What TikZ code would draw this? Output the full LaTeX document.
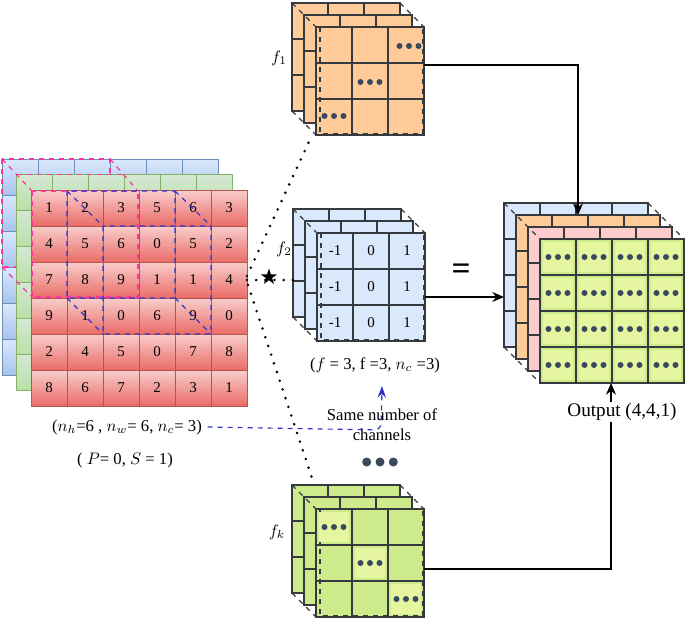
\documentclass[tikz,border=0pt]{standalone}
\usepackage{fontspec}
\setmainfont{Liberation Serif}
\newfontfamily\symfont{DejaVu Sans}
\usetikzlibrary{arrows.meta}

\definecolor{redtop}{HTML}{F8CECC}
\definecolor{redbot}{HTML}{EA6B66}
\definecolor{redline}{HTML}{B85450}
\definecolor{bluetop}{HTML}{DAE8FC}
\definecolor{bluebot}{HTML}{A9C4EB}
\definecolor{blueline}{HTML}{6C8EBF}
\definecolor{greentop}{HTML}{D5E8D4}
\definecolor{greenbot}{HTML}{B9E0A5}
\definecolor{greenline}{HTML}{82B366}
\definecolor{peach}{HTML}{FFCC99}
\definecolor{skyfill}{HTML}{DAE8FC}
\definecolor{rosefill}{HTML}{FFCCCC}
\definecolor{limefill}{HTML}{CDEB8B}
\definecolor{limelight}{HTML}{E6F5A0}
\definecolor{dotgrey}{HTML}{3A4A5E}
\definecolor{gridgrey}{HTML}{36393D}
\definecolor{pinkdash}{HTML}{FF3399}
\definecolor{bluedash}{HTML}{3333CC}

\tikzset{
  redcell/.style={draw=redline, line width=0.6pt, top color=redtop, bottom color=redbot},
  greencell/.style={draw=greenline, line width=0.6pt, top color=greentop, bottom color=greenbot},
  bluecell/.style={draw=blueline, line width=0.6pt, top color=bluetop, bottom color=bluebot},
  kcell/.style={draw=gridgrey, line width=0.8pt},
  pinkcube/.style={draw=pinkdash, dashed, line width=0.7pt},
  bluecube/.style={draw=bluedash, dashed, line width=0.7pt},
  facedash/.style={draw=gridgrey, dashed, line width=0.7pt},
  dotline/.style={line width=1.7pt, dash pattern=on 0pt off 5.5pt, line cap=round},
  flow/.style={-{Stealth[length=7pt,width=6pt]}, line width=0.7pt},
  num/.style={font=\small},
}

% three dots centred at x, y
\newcommand{\threedots}[2]{%
  \foreach \dx in {-9.5,0,9.5} \fill[dotgrey] (#1+\dx,#2) circle (3);
}
% 3x3 kernel of three layers, back corner x, y, fill
\newcommand{\kernelstack}[3]{%
  \foreach \l in {0,1,2}
    \foreach \r in {0,1,2}
      \foreach \c in {0,1,2}
        \draw[kcell, fill=#3] (#1+12*\l+36*\c,#2+12*\l+36*\r) rectangle ++(36,36);
  \draw[facedash] (#1,#2) -- (#1+24,#2+24) (#1+108,#2) -- (#1+132,#2+24)
    (#1,#2+108) -- (#1+24,#2+132);
  \draw[facedash] (#1+28,#2+24) rectangle (#1+131,#2+131);
}

\begin{document}
\begin{tikzpicture}[x=0.6pt, y=-0.6pt]
\useasboundingbox (0,0) rectangle (685,623);

% input volume: blue, green, red channels
\foreach \r in {0,...,5}
  \foreach \c in {0,...,5}
    \draw[bluecell] (2+36*\c,159+36*\r) rectangle ++(36,36);
\draw[pinkcube] (2,159) rectangle (110,267);
\foreach \r in {0,...,5}
  \foreach \c in {0,...,5}
    \draw[greencell] (16.5+36*\c,174.5+36*\r) rectangle ++(36,36);
\draw[pinkcube] (16.5,174.5) -- (124.5,174.5);
\foreach \row [count=\r from 0] in {{1,2,3,5,6,3},{4,5,6,0,5,2},{7,8,9,1,1,4},
    {9,1,0,6,9,0},{2,4,5,0,7,8},{8,6,7,2,3,1}}
  \foreach \v [count=\c from 0] in \row {
    \draw[redcell] (31+36*\c,190+36*\r) rectangle ++(36,36);
    \node[num] at (49+36*\c,208+36*\r) {\v};
  }

% sliding windows
\draw[pinkcube] (32,191) rectangle (138,297);
\draw[pinkcube] (2,159) -- (32,191) (110,159) -- (138,191) (2,267) -- (32,297);
\draw[bluecube] (67,191) rectangle (175,298) (103,226) rectangle (211,334)
  (67,191) -- (103,226) (175,191) -- (211,226)
  (67,298) -- (103,334) (175,298) -- (211,334);

% kernels
\kernelstack{292}{3}{peach}
\threedots{409}{46}
\threedots{370}{82}
\threedots{334}{116}

\kernelstack{293}{209}{skyfill}
\foreach \r in {0,1,2}
  \foreach \v [count=\c from 0] in {-1,0,1}
    \node[num] at (335+36*\c,251+36*\r) {\v};

\kernelstack{292}{485}{limefill}
\foreach \k in {0,1,2} {
  \fill[limelight] (319+36*\k,512+36*\k) rectangle ++(30,30);
  \threedots{334+36*\k}{527+36*\k}
}

% output volume
\foreach \l/\col in {0/skyfill,1/peach,2/rosefill}
  \foreach \r in {0,...,3}
    \foreach \c in {0,...,3}
      \draw[kcell, fill=\col] (504+12*\l+36*\c,203+12*\l+36*\r) rectangle ++(36,36);
\foreach \r in {0,...,3}
  \foreach \c in {0,...,3} {
    \draw[kcell, fill=limefill] (540+36*\c,239+36*\r) rectangle ++(36,36);
    \fill[limelight] (543+36*\c,242+36*\r) rectangle ++(30,30);
    \threedots{558+36*\c}{257+36*\r}
  }
\draw[facedash] (504,203) -- (540,239) (648,203) -- (684,239) (504,347) -- (540,383)
  (504,203) -- (504,347);
\draw[facedash] (540,239) rectangle (684,383);

% labels
\node (f1lab) at (279,58) {$f_1$};
\node (f2lab) at (284,249) {$f_2$};
\node (fklab) at (277,532) {$f_k$};
\node (eq) at (461,272) {\fontsize{20}{20}\selectfont\bfseries =};
\node (fdims) at (375,365) {($f$ = 3, f =3, $n_c$ =3)};
\node (hwc) at (127,427) {($n_h$=6 , $n_w$= 6, $n_c$= 3)};
\node (pad) at (125,460) {( $P$= 0, $S$ = 1)};
\node[align=center] (samech) at (382,425) {Same number of\\channels};
\foreach \dx in {-13.3,0,13.3}
  \fill[dotgrey] (380+\dx,462) circle (4.5);

% connection points
\coordinate (src1) at (247,276);
\coordinate (src2) at (247,280);
\coordinate (src3) at (248,285);
\coordinate (k1in) at (312,135);
\coordinate (k2in) at (293,280);
\coordinate (kkin) at (313,481);
\coordinate (k1out) at (424,65);
\coordinate (k2out) at (425,297);
\coordinate (kkout) at (424,569);
\coordinate (outtop) at (578,215);
\coordinate (outleft) at (504,297);
\coordinate (outbot) at (611,383);
\coordinate (chtip) at (382,386);

% dotted convolution lines
\draw[dotline] (src1) -- (k1in);
\draw[dotline] (src2) -- (k2in);
\draw[dotline] (src3) -- (kkin);
\node[inner sep=0pt] (conv) at (269,277) {\symfont\fontsize{13}{13}\selectfont ★};

% result arrows
\draw[flow] (k1out) -| (outtop);
\draw[flow] (k2out) -- (outleft);
\draw[flow] (kkout) -| (outbot);
\node[fill=white, inner sep=1pt, font=\fontsize{11.5}{13}\selectfont] (outlab) at (622,412)
  {Output (4,4,1)};

% channel note
\draw[bluedash, dashed, line width=0.7pt, rounded corners=4pt,
  -{Stealth[length=7pt,width=5pt]}] (hwc.east) -- (381,430) -- (chtip);
\end{tikzpicture}
\end{document}
